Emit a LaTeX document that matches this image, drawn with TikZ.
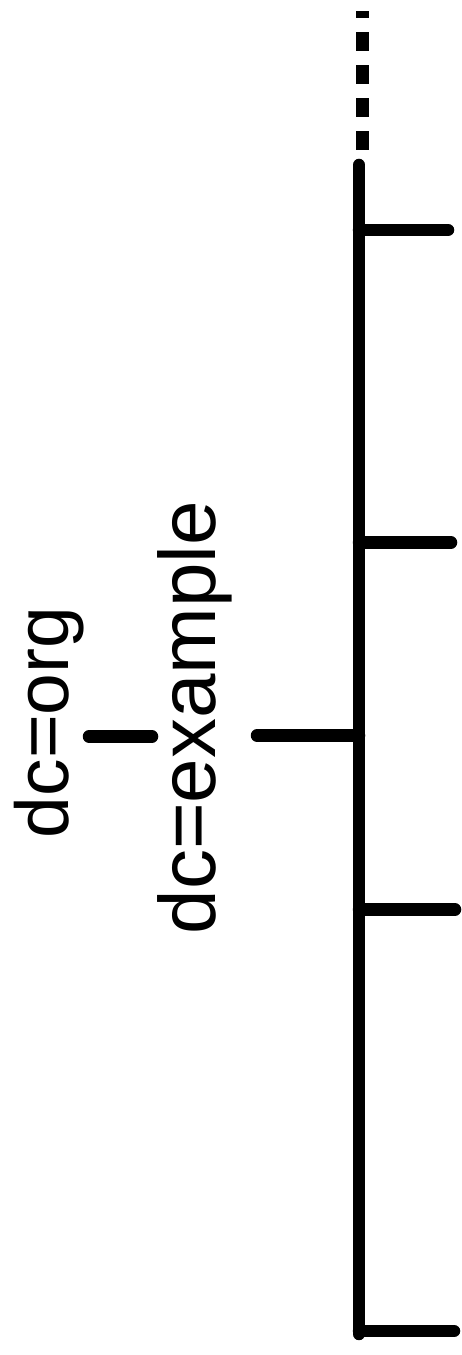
\documentclass[tikz,border=0pt]{standalone}
\usepackage{fontspec}
\setmainfont{Liberation Sans}
\begin{document}
\begin{tikzpicture}[x=1pt,y=1pt,
  treeline/.style={line width=12.5pt, line cap=round, black},
  dashline/.style={line width=13pt, line cap=butt, black, dash pattern=on 19pt off 14pt},
  lbl/.style={rotate=90, anchor=base, inner sep=0pt}]
\useasboundingbox (0,0) rectangle (461,1355);
% coordinates (y = 1355 - pixel row)
\coordinate (dtop) at (362,1344);
\coordinate (dbot) at (362,1205);
\coordinate (top) at (359,1190);
\coordinate (bot) at (359,21);
\coordinate (j1) at (359,1125);
\coordinate (e1) at (448,1125);
\coordinate (j2) at (359,812.5);
\coordinate (e2) at (451,812.5);
\coordinate (j3) at (359,619.5);
\coordinate (l3) at (257,619.5);
\coordinate (j4) at (359,445.5);
\coordinate (e4) at (455,445.5);
\coordinate (j5) at (359,24);
\coordinate (e5) at (454,24);
\coordinate (oa) at (89,618.5);
\coordinate (ob) at (152,618.5);
\node[lbl, font=\fontsize{75}{90}\selectfont] (org) at (68,632.5) {dc=org};
\node[lbl, font=\fontsize{80}{96}\selectfont] (ex) at (215,637.5) {dc=example};
\draw[dashline] (dbot) -- (dtop);
\draw[treeline] (top) -- (bot);
\draw[treeline] (j1) -- (e1);
\draw[treeline] (j2) -- (e2);
\draw[treeline] (j3) -- (l3);
\draw[treeline] (j4) -- (e4);
\draw[treeline] (j5) -- (e5);
\draw[treeline] (oa) -- (ob);
\end{tikzpicture}
\end{document}
